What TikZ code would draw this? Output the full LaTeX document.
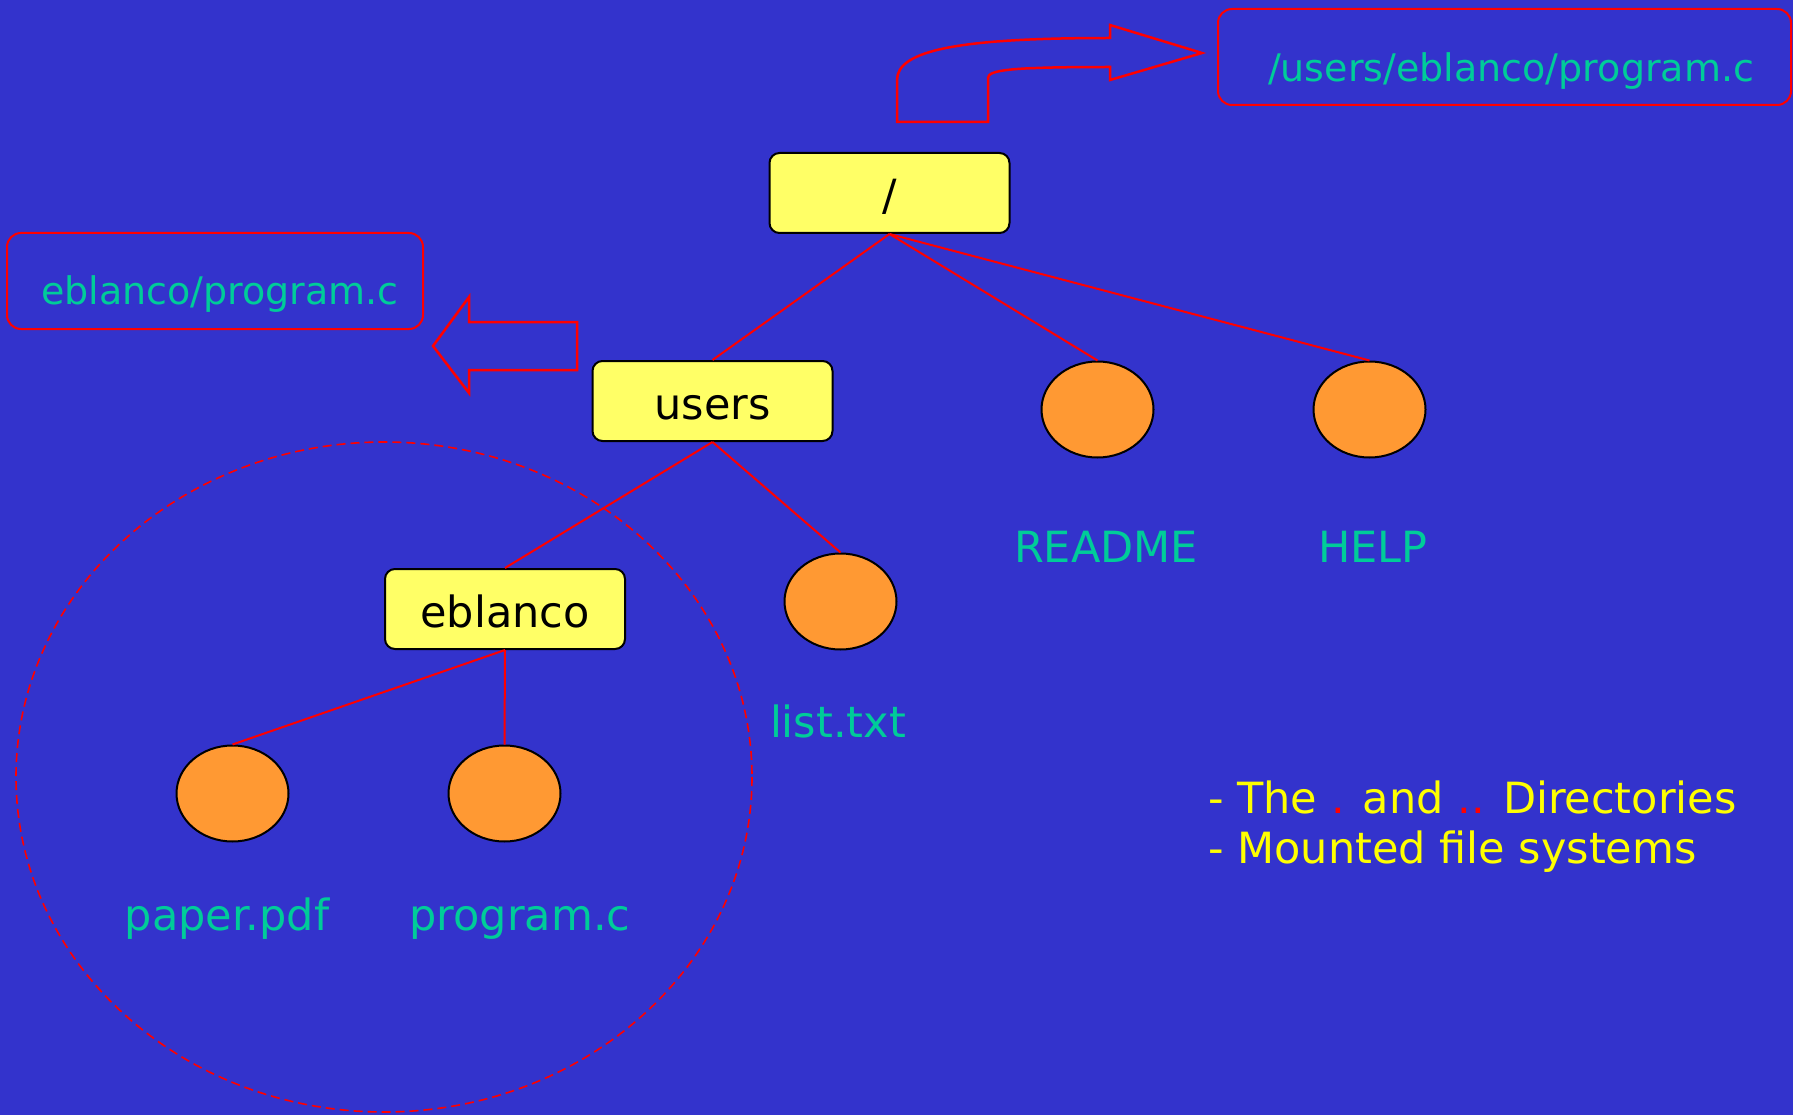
\documentclass[tikz,border=0pt]{standalone}
\usepackage{fontspec}
\setmainfont{DejaVu Sans}
\usetikzlibrary{shapes.geometric}

\definecolor{bgblue}{RGB}{51,51,204}
\definecolor{boxyellow}{RGB}{255,255,102}
\definecolor{fileorange}{RGB}{255,153,51}
\definecolor{labelgreen}{RGB}{0,204,153}
\definecolor{linered}{RGB}{255,0,0}
\definecolor{textyellow}{RGB}{255,255,0}

\tikzset{
  dirbox/.style={draw=black, line width=2pt, fill=boxyellow, rounded corners=10pt,
    minimum width=240pt, minimum height=80pt, inner sep=0pt,
    text height=36pt, text depth=0pt, font=\fontsize{43}{52}\selectfont},
  filenode/.style={draw=black, line width=2pt, fill=fileorange, ellipse,
    minimum width=112pt, minimum height=96pt, inner sep=0pt},
  fname/.style={anchor=base, text=labelgreen, inner sep=0pt, font=\fontsize{43}{52}\selectfont},
  pathbox/.style={draw=linered, line width=2pt, rounded corners=14pt},
  pathtext/.style={anchor=base, text=labelgreen, inner sep=0pt, font=\fontsize{38}{46}\selectfont},
  edge/.style={draw=linered, line width=2pt},
  blockarrow/.style={draw=linered, line width=2.5pt, line join=miter},
  note/.style={anchor=base west, text=textyellow, inner sep=0pt, font=\fontsize{43}{52}\selectfont},
}

\begin{document}
\begin{tikzpicture}[x=1pt, y=-1pt]
  % canvas
  \fill[bgblue] (0,0) rectangle (1793,1115);
  \useasboundingbox (0,0) rectangle (1793,1115);

  % mounted subtree outline
  \draw[linered, line width=1.6pt, dash pattern=on 9pt off 5pt]
    (384,777) ellipse [x radius=368, y radius=335];

  % directories
  \node[dirbox] (root) at (889.5,193) {/};
  \node[dirbox] (users) at (712.5,401) {users};
  \node[dirbox] (eblanco) at (505,609) {eblanco};

  % files
  \node[filenode] (readme) at (1097.5,409.5) {};
  \node[filenode] (help) at (1369.5,409.5) {};
  \node[filenode] (list) at (840.5,601.5) {};
  \node[filenode] (paper) at (232.5,793.5) {};
  \node[filenode] (program) at (504.5,793.5) {};

  % tree edges
  \draw[edge] (root.south) -- (users.north);
  \draw[edge] (root.south) -- (readme.north);
  \draw[edge] (root.south) -- (help.north);
  \draw[edge] (users.south) -- (eblanco.north);
  \draw[edge] (users.south) -- (list.north);
  \draw[edge] (eblanco.south) -- (paper.north);
  \draw[edge] (eblanco.south) -- (program.north);

  % file names
  \node[fname] (readmelbl) at (1106,562) {README};
  \node[fname] (helplbl) at (1373,562) {HELP};
  \node[fname] (listlbl) at (838,737) {list.txt};
  \node[fname] (paperlbl) at (227,930) {paper.pdf};
  \node[fname] (programlbl) at (520,930) {program.c};

  % absolute path
  \draw[pathbox] (1218,9) rectangle (1791,105);
  \node[pathtext] (abspath) at (1511,82) {/users/eblanco/program.c};
  \draw[blockarrow]
    (897,122) -- (897,80) .. controls (897,50) and (960,38) .. (1110,38)
    -- (1110,25) -- (1202,53) -- (1110,80) -- (1110,67)
    .. controls (1010,67) and (988,70) .. (988,78) -- (988,122) -- cycle;

  % relative path
  \draw[pathbox] (7,233) rectangle (423,329);
  \node[pathtext] (relpath) at (220,305) {eblanco/program.c};
  \draw[blockarrow]
    (577,322) -- (469,322) -- (469,297) -- (433,346) -- (469,393)
    -- (469,370) -- (577,370) -- cycle;

  % notes
  \node[note] (note1) at (1208,813)
    {- The {\color{linered}.} and {\color{linered}..} Directories};
  \node[note] (note2) at (1208,863) {- Mounted file systems};
\end{tikzpicture}
\end{document}
